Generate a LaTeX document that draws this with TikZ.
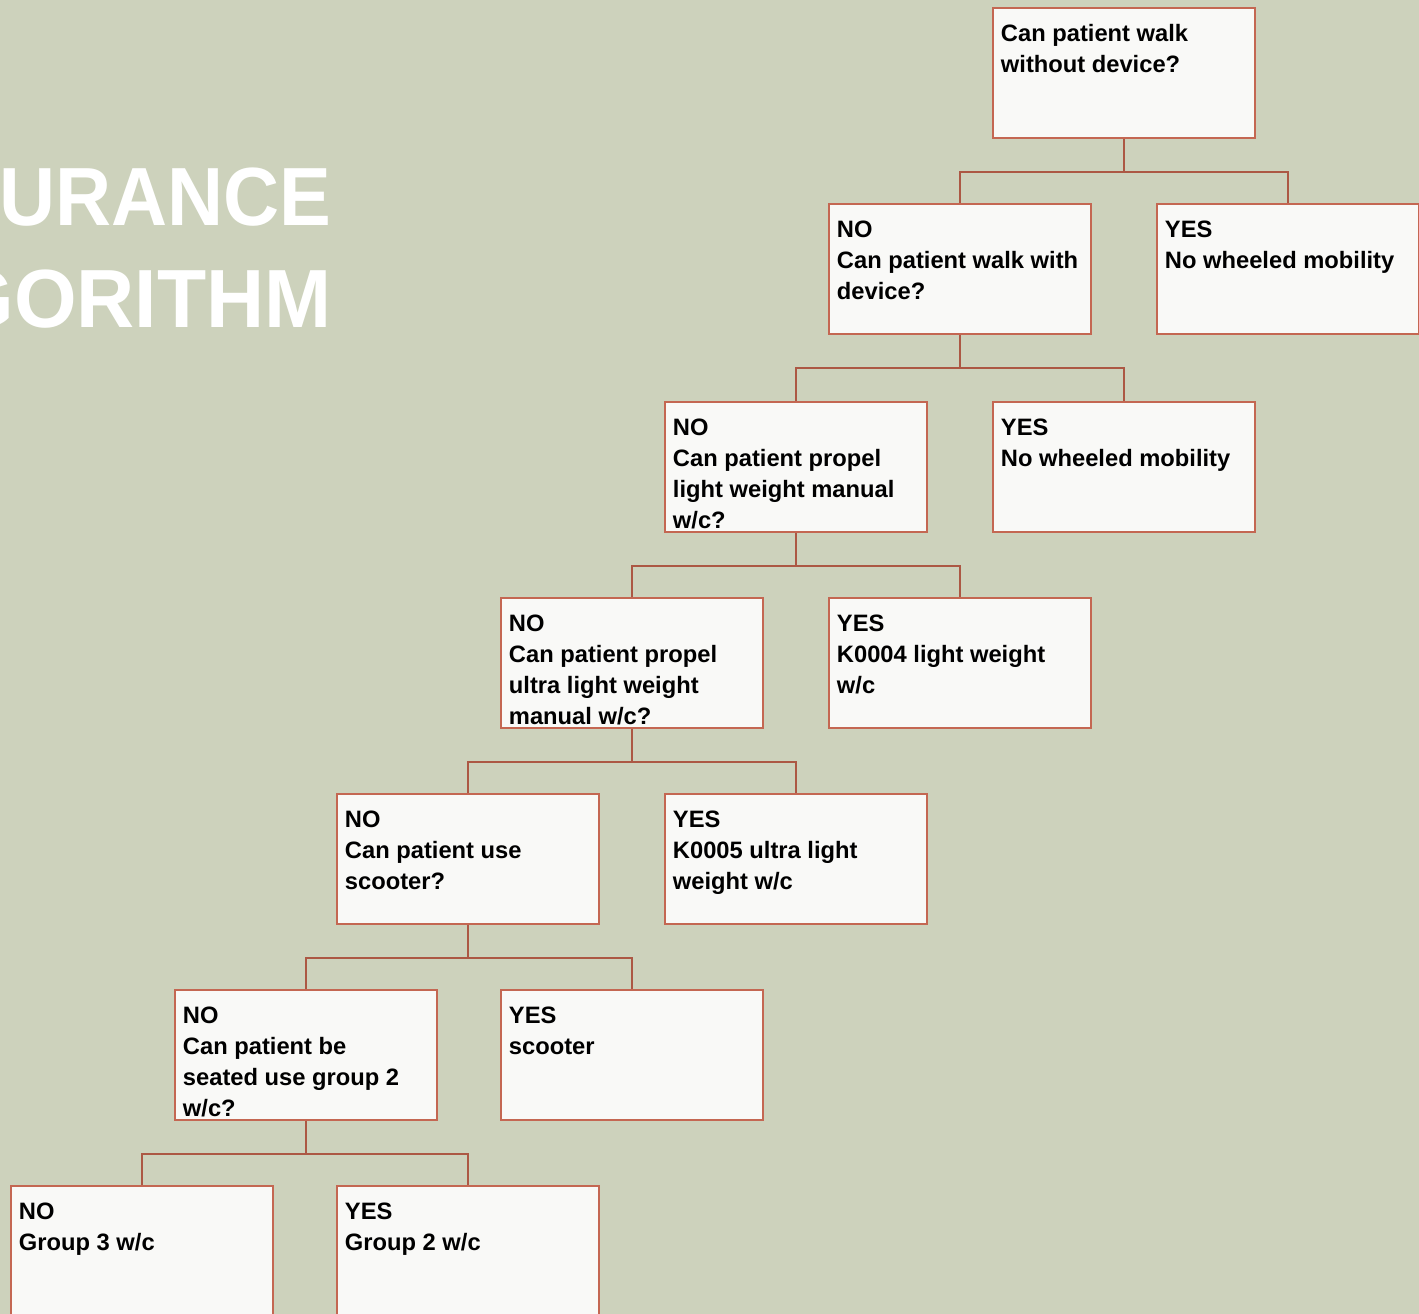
\documentclass[tikz,border=0pt]{standalone}
\usepackage{fontspec}
\setmainfont{Liberation Sans}
\definecolor{sage}{RGB}{205,210,188}
\definecolor{boxfill}{RGB}{249,249,247}
\definecolor{rust}{RGB}{196,103,82}
\definecolor{linkred}{RGB}{172,88,68}
\newcommand{\boxtext}[1]{\parbox[t][59.9pt][t]{4.92cm}{\raggedright\fontsize{13.5}{17.6}\selectfont\bfseries\strut #1}}
\tikzset{qbox/.style={draw=rust, fill=boxfill, line width=1.1pt, inner xsep=0.16cm, inner ysep=7pt, anchor=north west},
link/.style={draw=linkred, line width=1.1pt},
bigtitle/.style={text=white, font=\fontsize{47}{50}\selectfont\bfseries, anchor=base east, inner sep=0pt, transform shape}}
\begin{document}
\begin{tikzpicture}[x=0.02cm, y=-0.02cm]
\useasboundingbox (0,0) rectangle (1419,1314);
\clip (0,0) rectangle (1419,1314);
\fill[sage] (0,0) rectangle (1419,1314);
\node[bigtitle, xscale=0.94] (ins) at (332,226) {INSURANCE}; \node[bigtitle, xscale=0.975] (alg) at (332,328) {ALGORITHM};
\node[qbox] (root) at (992,7) {\boxtext{Can patient walk\\without device?}};
\node[qbox] (no1) at (828,203) {\boxtext{NO\\Can patient walk with\\device?}};
\node[qbox] (yes1) at (1156,203) {\boxtext{YES\\No wheeled mobility}};
\node[qbox] (no2) at (664,401) {\boxtext{NO\\Can patient propel\\light weight manual\\w/c?}};
\node[qbox] (yes2) at (992,401) {\boxtext{YES\\No wheeled mobility}};
\node[qbox] (no3) at (500,597) {\boxtext{NO\\Can patient propel\\ultra light weight\\manual w/c?}};
\node[qbox] (yes3) at (828,597) {\boxtext{YES\\K0004 light weight\\w/c}};
\node[qbox] (no4) at (336,793) {\boxtext{NO\\Can patient use\\scooter?}};
\node[qbox] (yes4) at (664,793) {\boxtext{YES\\K0005 ultra light\\weight w/c}};
\node[qbox] (no5) at (174,989) {\boxtext{NO\\Can patient be\\seated use group 2\\w/c?}};
\node[qbox] (yes5) at (500,989) {\boxtext{YES\\scooter}};
\node[qbox] (no6) at (10,1185) {\boxtext{NO\\Group 3 w/c}};
\node[qbox] (yes6) at (336,1185) {\boxtext{YES\\Group 2 w/c}};
\draw[link] (root.south) -- ++(0,33) coordinate (b1) -| (no1.north) (b1) -| (yes1.north);
\draw[link] (no1.south) -- ++(0,33) coordinate (b2) -| (no2.north) (b2) -| (yes2.north);
\draw[link] (no2.south) -- ++(0,33) coordinate (b3) -| (no3.north) (b3) -| (yes3.north);
\draw[link] (no3.south) -- ++(0,33) coordinate (b4) -| (no4.north) (b4) -| (yes4.north);
\draw[link] (no4.south) -- ++(0,33) coordinate (b5) -| (no5.north) (b5) -| (yes5.north);
\draw[link] (no5.south) -- ++(0,33) coordinate (b6) -| (no6.north) (b6) -| (yes6.north);
\end{tikzpicture}
\end{document}
